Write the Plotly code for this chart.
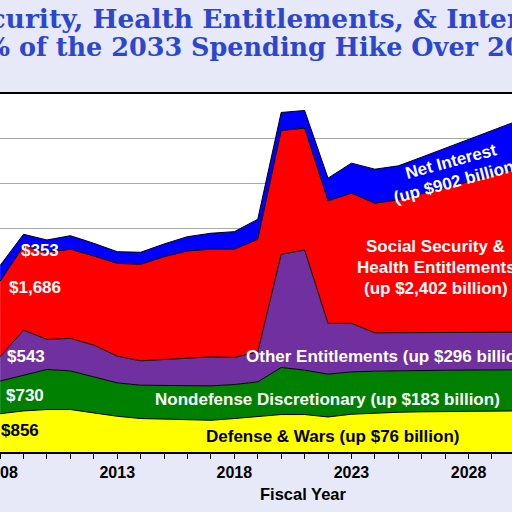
import plotly.graph_objects as go

# ---------------- data (billions, constant dollars) ----------------
years = list(range(2008, 2034))
defense = [856, 918, 949, 949, 873, 799, 748, 732, 709, 709, 748, 799, 837, 837,
           783, 844, 873, 889, 898, 905, 912, 918, 924, 928, 930, 932]
nondefense = [730, 799, 895, 864, 806, 745, 745, 754, 768, 768, 760, 768, 1052, 992,
              956, 946, 933, 928, 925, 922, 920, 919, 918, 916, 914, 913]
other_ent = [543, 1007, 672, 725, 709, 598, 544, 582, 627, 649, 605, 671, 2529, 2685,
             1135, 1084, 857, 846, 842, 840, 838, 838, 837, 838, 838, 839]
ss_health = [1686, 1880, 1947, 1992, 1992, 2075, 2157, 2296, 2388, 2404, 2417, 2516, 2766, 2724,
             2737, 2909, 2897, 2970, 3105, 3233, 3370, 3505, 3641, 3788, 3938, 4088]
net_interest = [353, 262, 275, 304, 284, 259, 269, 285, 320, 358, 394, 447, 403, 394,
                508, 672, 760, 761, 819, 886, 941, 993, 1043, 1110, 1180, 1255]

series_names = ["Defense & Wars", "Nondefense Discretionary", "Other Entitlements",
                "Social Security & Health Entitlements", "Net Interest"]
series_values = [defense, nondefense, other_ent, ss_health, net_interest]
series_colors = ["#FFFF00", "#008000", "#7030A0", "#FF0000", "#0000FF"]

start_labels = ["$856", "$730", "$543", "$1,686", "$353"]
title_line1 = "Social Security, Health Entitlements, & Interest"
title_line2 = "Are 86% of the 2033 Spending Hike Over 2008"
x_title = "Fiscal Year"

# ---------------- layout helpers ----------------
W, H = 512, 512
T, B = 94, 60
SANS = "Liberation Sans, Arial, sans-serif"
SERIF = "DejaVu Serif, Georgia, serif"


def px(x):
    return x / W


def py(y):
    return (H - B - y) / (H - T - B)


fig = go.Figure()
for name, vals, col in zip(series_names, series_values, series_colors):
    fig.add_trace(go.Scatter(
        x=years, y=vals, name=name, mode="lines", stackgroup="one",
        line=dict(color="black", width=1), fillcolor=col, hoverinfo="skip"))


def label(text, x, y, color="white", anchor="center", angle=0, size=17,
          family=SANS, weight="bold"):
    fig.add_annotation(
        text=text, x=px(x), y=py(y), xref="paper", yref="paper",
        xanchor=anchor, yanchor="middle", showarrow=False, textangle=angle,
        borderpad=0, borderwidth=0,
        font=dict(family=family, size=size, color=color, weight=weight))


# start-year value labels
label(start_labels[0], 19.5, 430, color="black")
label(start_labels[1], 24.5, 395)
label(start_labels[2], 25.7, 356.7)
label(start_labels[3], 35, 287.3)
label(start_labels[4], 40, 250.7)

# series labels
label("Net Interest", 451, 161, angle=-15)
label("(up $902 billion)", 456, 181.5, angle=-15)
label("Social Security &", 435.7, 246.7)
label("Health Entitlements", 436, 267.7)
label("(up $2,402 billion)", 435.8, 288.3)
label("Other Entitlements (up $296 billion)", 245.5, 356.7, anchor="left")
label("Nondefense Discretionary (up $183 billion)", 155, 399.3, anchor="left")
label("Defense & Wars (up $76 billion)", 205.5, 436.7, color="black", anchor="left")

# axis title
label(x_title, 303, 494, color="black", size=16.5)

# title (partially outside the visible page)
label(title_line1, -146, 19, color="#2C47CF", anchor="left", size=26.5, family=SERIF)
label(title_line2, -109, 47.5, color="#2C47CF", anchor="left", size=25.5, family=SERIF)

fig.update_layout(
    width=W, height=H,
    margin=dict(l=0, r=0, t=T, b=B, pad=0),
    paper_bgcolor="#E7E9F8", plot_bgcolor="white",
    showlegend=False,
    xaxis=dict(
        range=[2007.995, 2029.855], tickmode="linear", tick0=2008, dtick=5,
        ticks="outside", ticklen=5, tickcolor="black", tickwidth=1,
        ticklabeloverflow="allow",
        showline=True, linecolor="black", linewidth=1.5, mirror=True,
        showgrid=False, zeroline=False, automargin=False,
        tickfont=dict(family=SANS, size=16, color="black", weight="bold"),
        minor=dict(dtick=1, tick0=2008, ticks="outside", ticklen=5,
                   tickcolor="black", tickwidth=1, showgrid=False)),
    yaxis=dict(
        range=[0, 8000], dtick=1000, showgrid=True, gridcolor="#A8A8A8",
        gridwidth=1, showticklabels=False, ticks="", zeroline=False,
        showline=False, automargin=False),
)

fig.write_html("out.html", config={"displayModeBar": False},
               post_script="document.body.style.margin='0';document.body.style.overflow='hidden';")
